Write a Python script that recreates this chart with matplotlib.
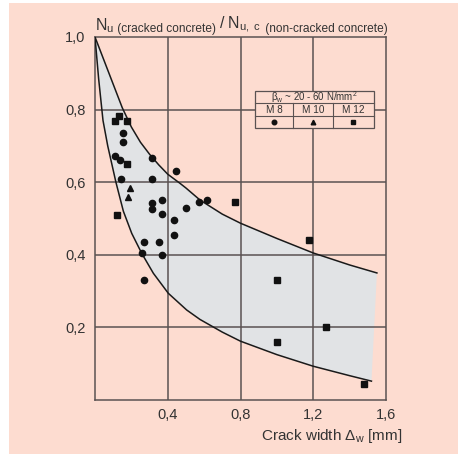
import matplotlib
matplotlib.use("Agg")
import matplotlib.pyplot as plt
from matplotlib.patches import Rectangle

plt.rcParams['font.family'] = ['Liberation Sans', 'DejaVu Sans']
plt.rcParams['mathtext.fontset'] = 'custom'
plt.rcParams['mathtext.rm'] = 'Liberation Sans'
plt.rcParams['mathtext.it'] = 'Liberation Sans:italic'

# scatter band
upper_x = [0, 0.05, 0.10, 0.15, 0.20, 0.25, 0.30, 0.35, 0.40, 0.467, 0.50, 0.577, 0.70, 0.80, 1.00, 1.20, 1.40, 1.55]
upper_y = [1.0, 0.935, 0.87, 0.805, 0.752, 0.71, 0.677, 0.648, 0.622, 0.597, 0.584, 0.551, 0.512, 0.487, 0.445, 0.405, 0.372, 0.35]
lower_x = [0, 0.02, 0.044, 0.07, 0.097, 0.115, 0.156, 0.202, 0.257, 0.321, 0.403, 0.504, 0.577, 0.70, 0.80, 1.00, 1.20, 1.40, 1.52]
lower_y = [1.0, 0.885, 0.77, 0.70, 0.64, 0.60, 0.52, 0.459, 0.404, 0.349, 0.294, 0.248, 0.222, 0.187, 0.162, 0.125, 0.093, 0.067, 0.052]

# M 8 (circles)
m8_x = [0.156, 0.156, 0.110, 0.136, 0.145, 0.315, 0.315, 0.445, 0.315, 0.315, 0.370, 0.370,
        0.499, 0.573, 0.614, 0.434, 0.434, 0.269, 0.350, 0.257, 0.370, 0.269]
m8_y = [0.735, 0.710, 0.672, 0.660, 0.610, 0.667, 0.610, 0.630, 0.543, 0.525, 0.552, 0.512,
        0.530, 0.545, 0.550, 0.495, 0.455, 0.434, 0.434, 0.405, 0.400, 0.330]
# M 10 (triangles)
m10_x = [0.191, 0.183]
m10_y = [0.585, 0.559]
# M 12 (squares)
m12_x = [0.110, 0.134, 0.174, 0.174, 0.121, 0.768, 1.178, 0.999, 1.268, 0.999, 1.480]
m12_y = [0.769, 0.782, 0.769, 0.650, 0.510, 0.545, 0.440, 0.331, 0.200, 0.160, 0.043]

x_ticks = [0.4, 0.8, 1.2, 1.6]
x_labels = ['0,4', '0,8', '1,2', '1,6']
y_ticks = [0.2, 0.4, 0.6, 0.8, 1.0]
y_labels = ['0,2', '0,4', '0,6', '0,8', '1,0']

peach = '#fddcd0'
band = '#e1e3e5'
grid = '#5a5252'
ink = '#333333'

fig = plt.figure(figsize=(4.58, 4.54), dpi=100)
fig.patch.set_facecolor(peach)
# thin white strips on the left and top edge
fig.patches.append(Rectangle((0, 0), 9 / 458, 1, transform=fig.transFigure,
                             facecolor='white', edgecolor='none', zorder=-10))
fig.patches.append(Rectangle((0, 1 - 3 / 454), 1, 3 / 454, transform=fig.transFigure,
                             facecolor='white', edgecolor='none', zorder=-10))

ax = fig.add_axes([95 / 458, 54 / 454, 291 / 458, 363 / 454])
ax.set_facecolor(peach)
ax.set_xlim(0, 1.6)
ax.set_ylim(0, 1.0)

ax.fill(upper_x + lower_x[::-1], upper_y + lower_y[::-1], color=band, zorder=1, lw=0)
ax.plot(upper_x, upper_y, color='#1a1a1a', lw=1.1, zorder=3)
ax.plot(lower_x, lower_y, color='#1a1a1a', lw=1.1, zorder=3)

for t in x_ticks[:-1]:
    ax.axvline(t, color=grid, lw=1.1, zorder=2)
for t in y_ticks[:-1]:
    ax.axhline(t, color=grid, lw=1.1, zorder=2)
for s in ax.spines.values():
    s.set_color(grid)
    s.set_linewidth(1.1)

ax.set_xticks(x_ticks)
ax.set_xticklabels(x_labels)
ax.set_yticks(y_ticks)
ax.set_yticklabels(y_labels)
ax.tick_params(length=0, labelsize=10.5, labelcolor=ink)
ax.tick_params(axis='x', pad=6)
ax.tick_params(axis='y', pad=7)

ax.plot(m8_x, m8_y, 'o', color='#111', ms=4.5, zorder=4)
ax.plot(m10_x, m10_y, '^', color='#111', ms=4.5, zorder=4)
ax.plot(m12_x, m12_y, 's', color='#111', ms=4.3, zorder=4)

# legend table
tx0, tx1, c1, c2 = 0.88, 1.534, 1.088, 1.308
ty0, ty1, r1, r2 = 0.749, 0.851, 0.818, 0.782
ax.add_patch(Rectangle((tx0, ty0), tx1 - tx0, ty1 - ty0, facecolor=peach,
                       edgecolor=grid, lw=0.9, zorder=5))
ax.plot([tx0, tx1], [r1, r1], color=grid, lw=0.8, zorder=6)
ax.plot([tx0, tx1], [r2, r2], color=grid, lw=0.8, zorder=6)
ax.plot([c1, c1], [ty0, r1], color=grid, lw=0.8, zorder=6)
ax.plot([c2, c2], [ty0, r1], color=grid, lw=0.8, zorder=6)
ax.text((tx0 + tx1) / 2, (r1 + ty1) / 2, r'$\mathregular{\beta_w}$ ~ 20 - 60 N/mm$\mathregular{^2}$',
        ha='center', va='center', fontsize=7, color=ink, zorder=7)
cx = [(tx0 + c1) / 2, (c1 + c2) / 2, (c2 + tx1) / 2]
for x, lab, mk in zip(cx, ['M 8', 'M 10', 'M 12'], ['o', '^', 's']):
    ax.text(x, (r2 + r1) / 2, lab, ha='center', va='center', fontsize=7.2, color=ink, zorder=7)
    ax.plot([x], [(ty0 + r2) / 2], mk, color='#111', ms=3.3, zorder=7)

# title made of pieces with different sizes
t1 = fig.text(95 / 458, 1 - 30 / 454, r'$\mathregular{N_u}$', fontsize=11.5, color=ink, va='baseline')
t2 = ax.annotate(' (cracked concrete) ', xy=(1, 0), xycoords=t1, va='bottom', fontsize=8.6,
                 color=ink, annotation_clip=False)
t3 = ax.annotate(r'/ $\mathregular{N_{u,\ c}}$', xy=(1, 0), xycoords=t2, va='bottom', fontsize=11.5,
                 color=ink, annotation_clip=False)
ax.annotate(' (non-cracked concrete)', xy=(1, 0), xycoords=t3, va='bottom', fontsize=8.6,
            color=ink, annotation_clip=False)

fig.text(402 / 458, 1 - 440 / 454, r'Crack width $\mathregular{\Delta_w}$ [mm]', ha='right',
         va='baseline', fontsize=11, color=ink)

fig.savefig('out.png', dpi=100, facecolor=fig.get_facecolor())
